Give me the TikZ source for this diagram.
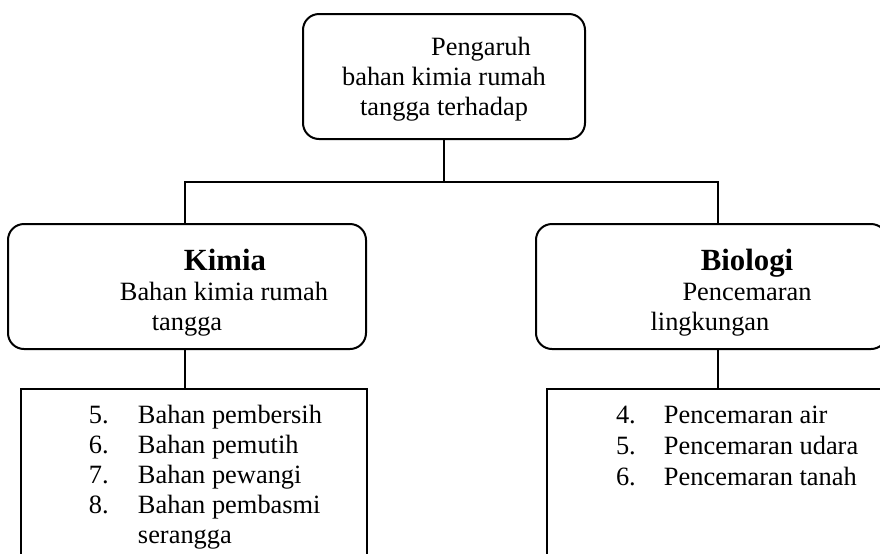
\documentclass[tikz,border=0pt]{standalone}
\usepackage{fontspec}
\setmainfont{Liberation Serif}
\usetikzlibrary{positioning}

\newcommand{\judul}[1]{{\fontsize{15.4}{17}\selectfont\bfseries #1}}

\begin{document}
\begin{tikzpicture}[x=0.5pt,y=-0.5pt,line width=1pt,
                    font=\fontsize{13.2}{15}\selectfont]

		    \tikzset{
		        roundbox/.style={draw, rounded corners=8pt, inner sep=0pt, minimum width=#1, minimum height=62.5pt},
		        listbox/.style={draw, inner sep=0pt, anchor=north west, minimum height=110pt},
		        boxtext/.style={align=center, inner sep=0pt},
		        listitem/.style={anchor=base west, inner sep=0pt}
		    }
		    \useasboundingbox (0,0) rectangle (880,553);
		    \clip (0,0) rectangle (880,553);

		    % kotak utama
		    \node(top) [roundbox=141pt] at (444,76.5) {};
		    \node(toptext) [boxtext, yshift=-1.25pt] at (top.center) {\hspace*{37pt}Pengaruh\\bahan kimia rumah\\tangga terhadap};

		    \node(kimia) [roundbox=179pt] at (187,286.5) {};
		    \node(kimiatext) [boxtext, yshift=-3pt] at (kimia.center) {\hspace*{38pt}\judul{Kimia}\\\hspace*{37pt}Bahan kimia rumah\\tangga};

		    \node(biologi) [roundbox=175.5pt] at (711.5,286.5) {};
		    \node(biologitext) [boxtext, yshift=-3pt] at (biologi.center) {\hspace*{35.5pt}\judul{Biologi}\\\hspace*{35.5pt}Pencemaran\\lingkungan\hspace*{1.5pt}};

		    \node(kimialist) [listbox, minimum width=173pt] at (20,388) {};
		    \node(biologilist) [listbox, minimum width=180pt] at (546,388) {};

		    \coordinate(bus) at (444,182);
		    \draw (top.south) -- (bus);
		    \draw ([xshift=-1pt]kimia.north) |- (bus) -| ([xshift=3.25pt]biologi.north);
		    \draw ([xshift=-1pt]kimia.south) -- ([xshift=-1pt]kimia.south |- kimialist.north);
		    \draw ([xshift=3.25pt]biologi.south) -- ([xshift=3.25pt]biologi.south |- biologilist.north);

		    % isi daftar
		    \foreach \nomor/\isi [count=\i from 0] in {5./Bahan pembersih, 6./Bahan pemutih, 7./Bahan pewangi, 8./Bahan pembasmi, /serangga}
		        \node(kimia-\i) [listitem] at (88,423+30*\i) {\makebox[24.5pt][l]{\nomor}\isi};
		    \foreach \nomor/\isi [count=\i from 0] in {4./Pencemaran air, 5./Pencemaran udara, 6./Pencemaran tanah}
		        \node(biologi-\i) [listitem] at (615,423+31*\i) {\makebox[24pt][l]{\nomor}\isi};

\end{tikzpicture}
\end{document}
